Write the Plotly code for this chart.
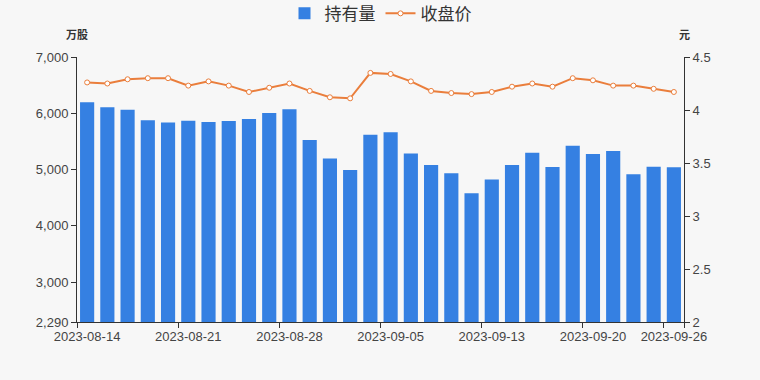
import plotly.graph_objects as go

dates = ["2023-08-14", "2023-08-15", "2023-08-16", "2023-08-17", "2023-08-18",
         "2023-08-21", "2023-08-22", "2023-08-23", "2023-08-24", "2023-08-25",
         "2023-08-28", "2023-08-29", "2023-08-30", "2023-08-31", "2023-09-01",
         "2023-09-05", "2023-09-06", "2023-09-07", "2023-09-08", "2023-09-11",
         "2023-09-13", "2023-09-14", "2023-09-15", "2023-09-18", "2023-09-19",
         "2023-09-20", "2023-09-21", "2023-09-22", "2023-09-25", "2023-09-26"]
holdings = [6194, 6106, 6064, 5876, 5834, 5869, 5846, 5864, 5899, 6005,
            6071, 5523, 5198, 4993, 5617, 5664, 5286, 5081, 4933, 4579,
            4821, 5081, 5298, 5046, 5422, 5275, 5329, 4915, 5051, 5039]
close = [4.26, 4.25, 4.29, 4.30, 4.30, 4.23, 4.27, 4.23, 4.17, 4.21,
         4.25, 4.18, 4.12, 4.11, 4.35, 4.34, 4.27, 4.18, 4.16, 4.15,
         4.17, 4.22, 4.25, 4.22, 4.30, 4.28, 4.23, 4.23, 4.20, 4.17]
xlabels = ["2023-08-14", "2023-08-21", "2023-08-28", "2023-09-05",
           "2023-09-13", "2023-09-20", "2023-09-26"]
left_ticks = [2290, 3000, 4000, 5000, 6000, 7000]
right_ticks = [2, 2.5, 3, 3.5, 4, 4.5]
right_labels = ["2", "2.5", "3", "3.5", "4", "4.5"]

BG = "#f7f7f7"
BLUE = "#3580e2"
ORANGE = "#ea7e3c"
FONT = "Liberation Sans, Noto Sans CJK SC, sans-serif"
CJK = "Noto Sans CJK SC, sans-serif"
TXT = "#333333"

fig = go.Figure()
fig.add_trace(go.Bar(x=dates, y=holdings, name="持有量", marker=dict(color=BLUE, line=dict(width=0)),
                     yaxis="y"))
fig.add_trace(go.Scatter(x=dates, y=close, name="收盘价", mode="lines+markers",
                         line=dict(color=ORANGE, width=2),
                         marker=dict(size=5, color="white", line=dict(color=ORANGE, width=1)),
                         yaxis="y2"))

axis_common = dict(ticks="outside", ticklen=5, tickcolor=TXT, showline=True, linecolor=TXT,
                   linewidth=1, showgrid=False, zeroline=False, automargin=False,
                   tickfont=dict(size=13, color="#444", family=FONT))

fig.update_layout(
    width=760, height=380,
    paper_bgcolor=BG, plot_bgcolor=BG,
    margin=dict(l=77, r=76, t=57, b=58, autoexpand=False),
    font=dict(family=FONT, color=TXT, size=13),
    bargap=0.3,
    showlegend=True,
    legend=dict(orientation="h", x=0.5, xanchor="center", y=1.163, yanchor="middle",
                yref="paper", font=dict(size=17, color=TXT, family=CJK),
                bgcolor="rgba(0,0,0,0)", itemwidth=30),
    xaxis=dict(type="category", tickmode="array", tickvals=xlabels, ticktext=xlabels,
               tickson="boundaries", tickangle=0, range=[-0.5, 29.5],
               ticklabelstandoff=2, **axis_common),
    yaxis=dict(range=[2290, 7000], tickmode="array", tickvals=left_ticks,
               tickformat=",d", **axis_common),
    yaxis2=dict(range=[2, 4.5], tickmode="array", tickvals=right_ticks, ticktext=right_labels,
                overlaying="y", side="right", **axis_common),
    annotations=[
        dict(text="<b>万股</b>", xref="paper", yref="paper", x=0, y=1.0, yshift=13,
             xanchor="center", yanchor="bottom", showarrow=False,
             font=dict(size=11, color=TXT, family=CJK)),
        dict(text="<b>元</b>", xref="paper", yref="paper", x=1, y=1.0, yshift=13,
             xanchor="center", yanchor="bottom", showarrow=False,
             font=dict(size=11, color=TXT, family=CJK)),
    ],
)

fig.write_html(
    "out.html",
    config={"displayModeBar": False},
    post_script="document.body.style.margin='0';document.body.style.background='%s';"
                "document.documentElement.style.overflow='hidden';" % BG,
)
